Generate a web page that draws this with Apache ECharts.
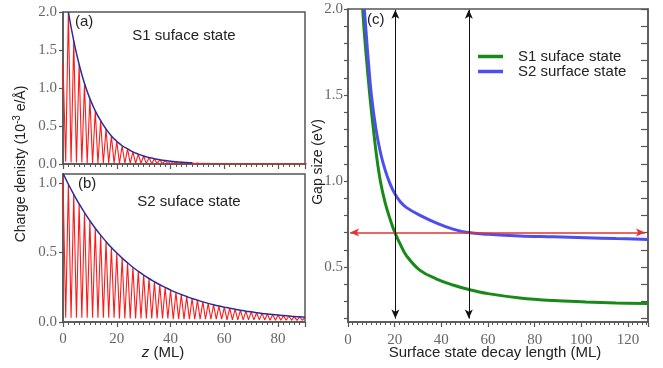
<!DOCTYPE html>
<html>
<head>
<meta charset="utf-8">
<script src="https://cdn.jsdelivr.net/npm/echarts@6/dist/echarts.min.js"></script>
<style>
  html, body { margin: 0; padding: 0; background: #fff; }
  #chart { width: 663px; height: 368px; }
</style>
</head>
<body>
<div id="chart"></div>
<script>
// (a) S1 charge density: peaks at z = 0, 2, 4 ... 90, troughs at z = 1, 3 ... 89
const s1Peaks = [1.33, 2.00, 1.62, 1.31, 1.06, 0.86, 0.70, 0.57, 0.46, 0.37,
  0.30, 0.24, 0.20, 0.16, 0.13, 0.105, 0.085, 0.069, 0.056, 0.045,
  0.037, 0.030, 0.024, 0.019, 0.016, 0.013, 0.010, 0.008, 0.007, 0.005,
  0, 0, 0, 0, 0, 0, 0, 0, 0, 0, 0, 0, 0, 0, 0, 0];
const s1Troughs = [0.03, 0.02, 0.02, 0.02, 0.01, 0.01, 0.01, 0.01, 0.01, 0.01,
  0.01, 0.01, 0.01, 0.01, 0.01, 0.005, 0.005, 0.005, 0.005, 0.005,
  0.004, 0.004, 0.003, 0.003, 0.002, 0.002, 0.002, 0.001, 0.001,
  0, 0, 0, 0, 0, 0, 0, 0, 0, 0, 0, 0, 0, 0, 0, 0, 0];

// (b) S2 charge density
const s2Peaks = [1.03, 0.991, 0.918, 0.850, 0.787, 0.729, 0.675, 0.625, 0.579, 0.536,
  0.497, 0.460, 0.426, 0.394, 0.365, 0.338, 0.313, 0.290, 0.268, 0.249,
  0.230, 0.213, 0.198, 0.183, 0.169, 0.157, 0.145, 0.134, 0.124, 0.115,
  0.107, 0.099, 0.092, 0.085, 0.078, 0.073, 0.067, 0.062, 0.058, 0.054,
  0.050, 0.046, 0.043, 0.039, 0.037, 0.034];
const s2Troughs = [0.03, 0.03, 0.03, 0.03, 0.03, 0.03, 0.03, 0.03, 0.03, 0.03,
  0.025, 0.025, 0.025, 0.025, 0.025, 0.025, 0.025, 0.025, 0.025, 0.025,
  0.02, 0.02, 0.02, 0.02, 0.02, 0.02, 0.02, 0.02, 0.02, 0.02,
  0.015, 0.015, 0.015, 0.015, 0.015, 0.015, 0.015, 0.015,
  0.012, 0.012, 0.012, 0.012, 0.012, 0.012, 0.012];
const s2EnvStart = 1.07;

// (c) gap size vs decay length
const s1Gap = [[6.3, 2.0], [7.0, 1.86], [8.0, 1.70], [9.4, 1.49], [10.9, 1.30], [12.3, 1.14],
  [14.0, 0.99], [16.0, 0.87], [18.0, 0.78], [20.1, 0.70], [22.5, 0.63], [25.1, 0.565], [30.9, 0.48],
  [38, 0.43], [45, 0.395], [51.4, 0.37], [60, 0.345], [73.7, 0.32], [88, 0.305],
  [102, 0.297], [115, 0.291], [128.6, 0.287]];
const s2Gap = [[7.0, 2.0], [8.0, 1.82], [8.7, 1.70], [10.1, 1.49], [12.0, 1.30], [14.0, 1.16],
  [16.0, 1.06], [18.0, 0.985], [20.1, 0.925], [22.5, 0.878], [25.1, 0.845], [30.9, 0.80],
  [38, 0.755], [45, 0.72], [51.4, 0.70], [60, 0.69], [73.7, 0.68], [88, 0.675],
  [102, 0.67], [115, 0.665], [128.6, 0.66]];
const gapLevel = 0.70;
const gapSpan = [0.9, 127.3];
const decayMarks = [20.3, 51.8];
const decayArrowSpan = [0.2, 1.995];

const yTicksC = [0.2, 0.3, 0.4, 0.5, 0.6, 0.7, 0.8, 0.9, 1.0, 1.1, 1.2, 1.3, 1.4, 1.5, 1.6, 1.7, 1.8, 1.9, 2.0];
const yLabelsC = [0.5, 1.0, 1.5, 2.0];
const yLabelsB = [0, 0.5, 1.0];

function zigzag(peaks, troughs) {
  const out = [];
  for (let i = 0; i < peaks.length; i++) {
    out.push([2 * i, peaks[i]]);
    if (i < troughs.length) out.push([2 * i + 1, troughs[i]]);
  }
  return out;
}

const envA = s1Peaks.slice(1, 25).map((v, i) => [2 * (i + 1), v]);
const envB = [[0, s2EnvStart]].concat(s2Peaks.slice(1).map((v, i) => [2 * (i + 1), v]));

const serif = 'Liberation Serif';
const sans = 'Liberation Sans';
const axisGray = '#555';
const labelGray = '#666';
const tickFont = 15;

function zAxis(gridIndex, showLabels) {
  return {
    type: 'value', gridIndex, min: 0, max: 90, interval: 20,
    axisLine: { show: true, lineStyle: { color: axisGray, width: 1.5 } },
    axisTick: { show: true, length: 5, lineStyle: { color: axisGray, width: 1.2 } },
    minorTick: { show: true, splitNumber: 10, length: 3, lineStyle: { color: axisGray, width: 1 } },
    axisLabel: {
      show: showLabels, margin: 10, color: labelGray, fontFamily: serif, fontSize: tickFont,
      formatter: v => (v % 20 === 0 ? String(v) : '')
    },
    splitLine: { show: false }
  };
}

const chart = echarts.init(document.getElementById('chart'));
chart.setOption({
  animation: false,
  backgroundColor: '#fff',
  grid: [
    { left: 63, top: 12, width: 242, height: 152, show: true, borderColor: axisGray, borderWidth: 1.5 },
    { left: 63, top: 174, width: 242, height: 148, show: true, borderColor: axisGray, borderWidth: 1.5 },
    { left: 348, top: 9, width: 300, height: 313, show: true, borderColor: axisGray, borderWidth: 1.5 }
  ],
  xAxis: [
    zAxis(0, false),
    zAxis(1, true),
    {
      type: 'value', gridIndex: 2, min: 0, max: 128.6, interval: 20,
      axisLine: { show: true, lineStyle: { color: axisGray, width: 1.5 } },
      axisTick: { show: true, length: 5, lineStyle: { color: axisGray, width: 1.2 } },
      minorTick: { show: true, splitNumber: 10, length: 3, lineStyle: { color: axisGray, width: 1 } },
      axisLabel: {
        margin: 11, color: labelGray, fontFamily: serif, fontSize: tickFont,
        formatter: v => (v % 20 === 0 ? String(v) : '')
      },
      splitLine: { show: false }
    }
  ],
  yAxis: [
    {
      type: 'value', gridIndex: 0, min: 0, max: 2, interval: 0.5,
      axisLine: { show: true, lineStyle: { color: axisGray, width: 1.5 } },
      axisTick: { show: true, length: 4, lineStyle: { color: axisGray, width: 1.2 } },
      axisLabel: { margin: 6, color: labelGray, fontFamily: serif, fontSize: tickFont, formatter: v => v.toFixed(1) },
      splitLine: { show: false }
    },
    {
      type: 'value', gridIndex: 1, min: 0, max: 1.065,
      axisLine: { show: true, lineStyle: { color: axisGray, width: 1.5 } },
      axisTick: { show: true, length: 4, customValues: yLabelsB, lineStyle: { color: axisGray, width: 1.2 } },
      axisLabel: { margin: 6, customValues: yLabelsB, color: labelGray, fontFamily: serif, fontSize: tickFont, formatter: v => v.toFixed(1) },
      splitLine: { show: false }
    },
    {
      type: 'value', gridIndex: 2, min: 0.18, max: 2.0,
      axisLine: { show: true, lineStyle: { color: axisGray, width: 1.5 } },
      axisTick: { show: true, length: 4, customValues: yTicksC, lineStyle: { color: axisGray, width: 1.2 } },
      axisLabel: { margin: 5, customValues: yLabelsC, color: labelGray, fontFamily: serif, fontSize: tickFont, formatter: v => v.toFixed(1) },
      splitLine: { show: false }
    },
    {
      type: 'value', gridIndex: 2, min: 0.18, max: 2.0, position: 'right',
      axisLine: { show: true, lineStyle: { color: axisGray, width: 1.5 } },
      axisTick: { show: true, inside: true, length: 7, customValues: yTicksC, lineStyle: { color: axisGray, width: 1.2 } },
      axisLabel: { show: false },
      splitLine: { show: false }
    }
  ],
  legend: {
    left: 478, top: 49, padding: 0, orient: 'vertical', itemGap: 0,
    icon: 'rect', itemWidth: 25, itemHeight: 3.5,
    textStyle: { fontFamily: sans, fontSize: 15, color: '#222', padding: [0, 0, 0, 10] },
    data: ['S1 suface state', 'S2 surface state']
  },
  series: [
    {
      type: 'line', xAxisIndex: 0, yAxisIndex: 0, data: zigzag(s1Peaks, s1Troughs),
      showSymbol: false, lineStyle: { color: '#ff1a1a', width: 1.1 }, z: 2
    },
    {
      type: 'line', xAxisIndex: 0, yAxisIndex: 0, data: envA, smooth: true,
      showSymbol: false, lineStyle: { color: '#2b2b9c', width: 1.5 }, z: 3
    },
    {
      type: 'line', xAxisIndex: 1, yAxisIndex: 1, data: zigzag(s2Peaks, s2Troughs),
      showSymbol: false, lineStyle: { color: '#ff1a1a', width: 1.1 }, z: 2
    },
    {
      type: 'line', xAxisIndex: 1, yAxisIndex: 1, data: envB, smooth: true,
      showSymbol: false, lineStyle: { color: '#2b2b9c', width: 1.5 }, z: 3
    },
    {
      name: 'S1 suface state', type: 'line', xAxisIndex: 2, yAxisIndex: 2, data: s1Gap,
      smooth: 0.4, showSymbol: false, color: '#178a17', lineStyle: { color: '#178a17', width: 3 },
      markLine: {
        silent: true, symbol: ['arrow', 'arrow'], symbolSize: [6, 9], label: { show: false },
        data: [
          [{ coord: [gapSpan[0], gapLevel], lineStyle: { color: '#e63232', width: 1.5, type: 'solid' }, itemStyle: { color: '#e63232' } },
           { coord: [gapSpan[1], gapLevel] }],
          [{ coord: [decayMarks[0], decayArrowSpan[0]], lineStyle: { color: '#111', width: 1, type: 'solid' }, itemStyle: { color: '#111' } },
           { coord: [decayMarks[0], decayArrowSpan[1]] }],
          [{ coord: [decayMarks[1], decayArrowSpan[0]], lineStyle: { color: '#111', width: 1, type: 'solid' }, itemStyle: { color: '#111' } },
           { coord: [decayMarks[1], decayArrowSpan[1]] }]
        ]
      }
    },
    {
      name: 'S2 surface state', type: 'line', xAxisIndex: 2, yAxisIndex: 2, data: s2Gap,
      smooth: 0.4, showSymbol: false, color: '#4d4df2', lineStyle: { color: '#4d4df2', width: 3 }
    }
  ],
  graphic: [
    { type: 'text', x: 75, y: 22, style: { text: '(a)', font: '15px "Liberation Sans"', fill: '#222', verticalAlign: 'middle' } },
    { type: 'text', x: 78, y: 184, style: { text: '(b)', font: '15px "Liberation Sans"', fill: '#222', verticalAlign: 'middle' } },
    { type: 'text', x: 367, y: 20, style: { text: '(c)', font: '15px "Liberation Sans"', fill: '#222', verticalAlign: 'middle' } },
    { type: 'text', x: 184, y: 36, style: { text: 'S1 suface state', font: '15px "Liberation Sans"', fill: '#222', align: 'center', verticalAlign: 'middle' } },
    { type: 'text', x: 189, y: 202, style: { text: 'S2 suface state', font: '15px "Liberation Sans"', fill: '#222', align: 'center', verticalAlign: 'middle' } },
    {
      type: 'text', x: 163, y: 353,
      style: {
        text: '{i|z}{n| (ML)}', align: 'center', verticalAlign: 'middle',
        rich: {
          i: { fontFamily: sans, fontSize: 15, fontStyle: 'italic', fill: '#222' },
          n: { fontFamily: sans, fontSize: 15, fill: '#222' }
        }
      }
    },
    { type: 'text', x: 495, y: 353, style: { text: 'Surface state decay length (ML)', font: '15px "Liberation Sans"', fill: '#222', align: 'center', verticalAlign: 'middle' } },
    { type: 'text', x: 318, y: 162, rotation: Math.PI / 2, style: { text: 'Gap size (eV)', font: '14px "Liberation Sans"', fill: '#222', align: 'center', verticalAlign: 'middle' } },
    {
      type: 'text', x: 21, y: 164, rotation: Math.PI / 2,
      style: {
        text: '{a|Charge denisty (10}{s|-3}{a| e/Å)}', align: 'center', verticalAlign: 'middle',
        rich: {
          a: { fontFamily: sans, fontSize: 14, fill: '#222', lineHeight: 18 },
          s: { fontFamily: sans, fontSize: 10, fill: '#222', verticalAlign: 'top', lineHeight: 10 }
        }
      }
    }
  ]
});
</script>
</body>
</html>
